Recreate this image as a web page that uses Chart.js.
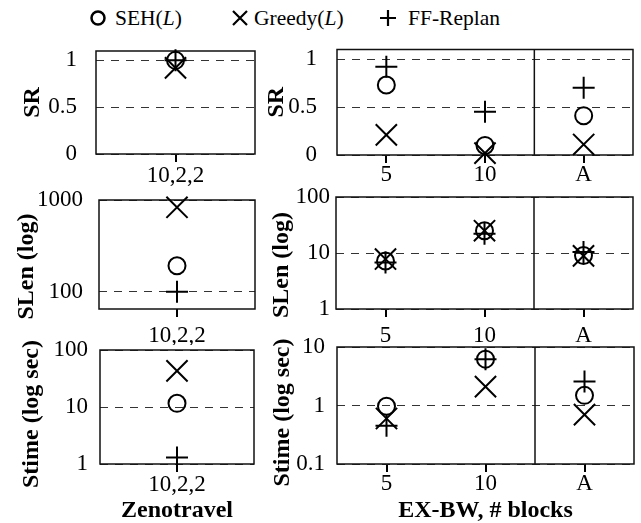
<!DOCTYPE html>
<html>
<head>
<meta charset="utf-8">
<script src="https://cdn.jsdelivr.net/npm/chart.js@4.4.0/dist/chart.umd.min.js"></script>
<style>
    html, body { margin: 0; padding: 0; background: #fff; }
    #wrap { position: relative; width: 641px; height: 523px; overflow: hidden; font-family: 'Liberation Serif', 'Times New Roman', serif; }
    #wrap canvas { position: absolute; }
    .lg-mark { position: absolute; top: 9px; }
    .lg-text { position: absolute; top: 4px; height: 28px; line-height: 28px; font-size: 21.5px; color: #000; white-space: nowrap; }
</style>
</head>
<body>
<div id="wrap">
    <!-- legend -->
    <svg class="lg-mark" style="left:89px" width="18" height="18"><circle cx="9" cy="9" r="6.5" fill="none" stroke="#000" stroke-width="2.5"/></svg>
    <span class="lg-text" style="left:115px">SEH(<i>L</i>)</span>
    <svg class="lg-mark" style="left:231px" width="18" height="18"><path d="M2 2 L16 16 M16 2 L2 16" stroke="#000" stroke-width="2.2"/></svg>
    <span class="lg-text" style="left:254px">Greedy(<i>L</i>)</span>
    <svg class="lg-mark" style="left:379px" width="18" height="18"><path d="M9 1 L9 17 M1 9 L17 9" stroke="#000" stroke-width="2.2"/></svg>
    <span class="lg-text" style="left:408px">FF-Replan</span>

    <canvas id="srZeno" width="265" height="178" style="left:0;top:15px"></canvas>
    <canvas id="srBw" width="379" height="178" style="left:262px;top:15px"></canvas>
    <canvas id="slenZeno" width="265" height="175" style="left:0;top:170px"></canvas>
    <canvas id="slenBw" width="379" height="175" style="left:262px;top:170px"></canvas>
    <canvas id="stimeZeno" width="265" height="203" style="left:0;top:320px"></canvas>
    <canvas id="stimeBw" width="379" height="203" style="left:262px;top:320px"></canvas>
</div>

<script>
// Categories
const zenoLabels = ['10,2,2'];
const bwLabels = ['5', '10', 'A'];

// Tick labels
const srTicks = [0, 0.5, 1];
const zenoSlenTicks = [100, 1000];
const bwSlenTicks = [1, 10, 100];
const zenoStimeTicks = [1, 10, 100];
const bwStimeTicks = [0.1, 1, 10];

// Success rate
const zenoSrSeh = [1.0];
const zenoSrGreedy = [0.92];
const zenoSrFf = [1.0];
const bwSrSeh = [0.73, 0.10, 0.41];
const bwSrGreedy = [0.21, 0.02, 0.11];
const bwSrFf = [0.92, 0.45, 0.70];

// Solution length
const zenoSlenSeh = [192];
const zenoSlenGreedy = [833];
const zenoSlenFf = [100];
const bwSlenSeh = [7.2, 25, 9];
const bwSlenGreedy = [7.8, 25, 8.9];
const bwSlenFf = [6.8, 22, 10.4];

// Solution time (sec)
const zenoStimeSeh = [11.6];
const zenoStimeGreedy = [43];
const zenoStimeFf = [1.3];
const bwStimeSeh = [0.97, 6.2, 1.49];
const bwStimeGreedy = [0.6, 2.1, 0.7];
const bwStimeFf = [0.45, 6.2, 2.57];

const SERIF = "'Liberation Serif', 'Times New Roman', serif";

// Draws the plot frame and the optional split line between 10 and A
const framePlugin = {
    id: 'frame',
    beforeDatasetsDraw(chart, args, opts) {
        const a = chart.chartArea;
        const ctx = chart.ctx;
        ctx.save();
        ctx.strokeStyle = '#111';
        ctx.lineWidth = 1.5;
        ctx.strokeRect(a.left, a.top, a.right - a.left, a.bottom - a.top);
        if (opts.split !== undefined) {
            const x = chart.scales.x.getPixelForValue(opts.split);
            ctx.beginPath();
            ctx.moveTo(x, a.top);
            ctx.lineTo(x, a.bottom);
            ctx.stroke();
        }
        ctx.restore();
    }
};

// Rotated y axis title, sitting a little below the plot centre like the original
const yTitlePlugin = {
    id: 'yTitle',
    afterDraw(chart, args, opts) {
        const a = chart.chartArea;
        const ctx = chart.ctx;
        ctx.save();
        ctx.translate(opts.x, (a.top + a.bottom) / 2 + opts.shift);
        ctx.rotate(-Math.PI / 2);
        ctx.font = 'bold 24px ' + SERIF;
        ctx.fillStyle = '#000';
        ctx.textAlign = 'center';
        ctx.textBaseline = 'middle';
        ctx.fillText(opts.text, 0, 0);
        ctx.restore();
    }
};

function markerSet(label, values, style, radius) {
    return {
        label: label,
        data: values,
        showLine: false,
        pointStyle: style,
        pointRadius: radius,
        pointHoverRadius: radius,
        pointBorderColor: '#000',
        pointBackgroundColor: 'rgba(0,0,0,0)',
        pointBorderWidth: 2,
        clip: false
    };
}

function makePanel(id, p) {
    const yScale = {
        type: p.log ? 'logarithmic' : 'linear',
        min: p.min,
        max: p.max,
        afterBuildTicks: function(scale) {
            scale.ticks = p.ticks.map(v => ({ value: v }));
        },
        afterFit: function(scale) {
            scale.width = p.yWidth;
        },
        ticks: {
            padding: p.yPad,
            color: '#000',
            font: { family: SERIF, size: 23, lineHeight: 1 },
            callback: function(value) { return String(value); }
        },
        grid: { drawTicks: false, color: '#333', lineWidth: 1 },
        border: { display: false, dash: [8, 7] }
    };

    const xScale = {
        type: 'category',
        offset: true,
        afterFit: function(scale) {
            scale.height = p.xHeight;
        },
        ticks: {
            padding: p.xPad,
            color: '#000',
            maxRotation: 0,
            font: { family: SERIF, size: 23, lineHeight: 1 }
        },
        grid: { offset: false, drawOnChartArea: false, drawTicks: true, tickLength: 8, lineWidth: 2, color: '#000' },
        border: { display: false },
        title: {
            display: !!p.xTitle,
            text: p.xTitle || '',
            color: '#000',
            font: { family: SERIF, size: 24, weight: 'bold', lineHeight: 1 },
            padding: { top: 0, bottom: 0 }
        }
    };

    new Chart(document.getElementById(id), {
        type: 'line',
        data: {
            labels: p.labels,
            datasets: [
                markerSet('SEH(L)', p.seh, 'circle', 8.5),
                markerSet('Greedy(L)', p.greedy, 'crossRot', 15),
                markerSet('FF-Replan', p.ff, 'cross', 11)
            ]
        },
        options: {
            responsive: false,
            animation: false,
            devicePixelRatio: 1,
            layout: { autoPadding: false, padding: { top: p.padTop, right: p.padRight, left: 0, bottom: 0 } },
            plugins: {
                legend: { display: false },
                tooltip: { enabled: false },
                frame: { split: p.split },
                yTitle: { text: p.yTitle, x: p.yTitleX, shift: p.yTitleShift }
            },
            scales: { x: xScale, y: yScale }
        },
        plugins: [framePlugin, yTitlePlugin]
    });
}

document.addEventListener('DOMContentLoaded', function() {
    // Top row: SR
    makePanel('srZeno', {
        labels: zenoLabels, seh: zenoSrSeh, greedy: zenoSrGreedy, ff: zenoSrFf,
        min: 0, max: 1.1, ticks: srTicks, yTitle: 'SR', yTitleX: 33, yTitleShift: 0,
        yWidth: 96, padTop: 36, padRight: 10, xHeight: 39, yPad: 19, xPad: 2
    });
    makePanel('srBw', {
        labels: bwLabels, seh: bwSrSeh, greedy: bwSrGreedy, ff: bwSrFf,
        min: 0, max: 1.1, ticks: srTicks, yTitle: 'SR', yTitleX: 15, yTitleShift: 0, split: 1.5,
        yWidth: 75, padTop: 34.5, padRight: 8, xHeight: 38, yPad: 20, xPad: 0
    });

    // Middle row: SLen
    makePanel('slenZeno', {
        labels: zenoLabels, seh: zenoSlenSeh, greedy: zenoSlenGreedy, ff: zenoSlenFf,
        log: true, min: 65, max: 1000, ticks: zenoSlenTicks, yTitle: 'SLen (log)', yTitleX: 27, yTitleShift: 12,
        yWidth: 99, padTop: 30, padRight: 10, xHeight: 36, yPad: 16, xPad: 7
    });
    makePanel('slenBw', {
        labels: bwLabels, seh: bwSlenSeh, greedy: bwSlenGreedy, ff: bwSlenFf,
        log: true, min: 1, max: 100, ticks: bwSlenTicks, yTitle: 'SLen (log)', yTitleX: 20, yTitleShift: 12, split: 1.5,
        yWidth: 74, padTop: 27, padRight: 8, xHeight: 36, yPad: 6, xPad: 7
    });

    // Bottom row: Stime
    makePanel('stimeZeno', {
        labels: zenoLabels, seh: zenoStimeSeh, greedy: zenoStimeGreedy, ff: zenoStimeFf,
        log: true, min: 1, max: 100, ticks: zenoStimeTicks, yTitle: 'Stime (log sec)', yTitleX: 32, yTitleShift: 7,
        xTitle: 'Zenotravel',
        yWidth: 100, padTop: 30, padRight: 11, xHeight: 59, yPad: 12, xPad: 1
    });
    makePanel('stimeBw', {
        labels: bwLabels, seh: bwStimeSeh, greedy: bwStimeGreedy, ff: bwStimeFf,
        log: true, min: 0.1, max: 10, ticks: bwStimeTicks, yTitle: 'Stime (log sec)', yTitleX: 21, yTitleShift: 7,
        xTitle: 'EX-BW, # blocks', split: 1.5,
        yWidth: 75, padTop: 27, padRight: 7, xHeight: 59, yPad: 12, xPad: 0
    });
});
</script>
</body>
</html>
